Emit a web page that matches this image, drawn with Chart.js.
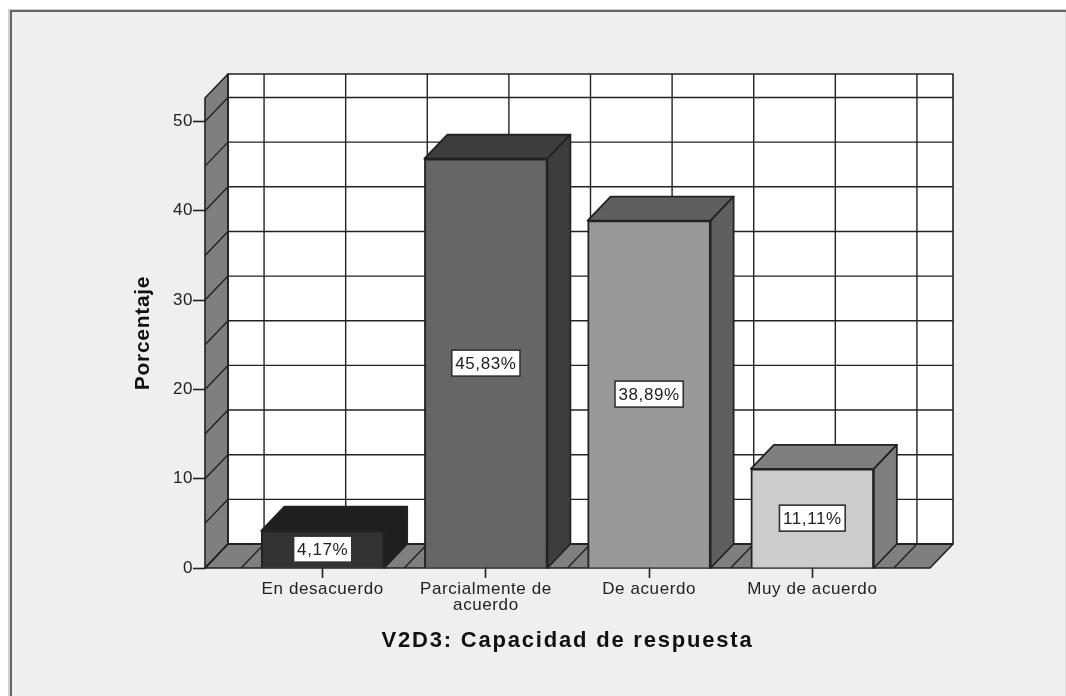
<!DOCTYPE html>
<html>
<head>
<meta charset="utf-8">
<style>
    html, body { margin: 0; padding: 0; background: #fff; }
    #wrap { width: 1066px; height: 696px; }
    canvas { display: block; }
</style>
</head>
<body>
<div id="wrap"><canvas id="myChart" width="1066" height="696"></canvas></div>
<script src="https://cdn.jsdelivr.net/npm/chart.js@4"></script>
<script>
const categories = [["En desacuerdo"], ["Parcialmente de", "acuerdo"], ["De acuerdo"], ["Muy de acuerdo"]];
const percentages = [4.17, 45.83, 38.89, 11.11];
const percentageLabels = ["4,17%", "45,83%", "38,89%", "11,11%"];
const frontColors = ["#333333", "#666666", "#999999", "#cccccc"];
const shadeColors = ["#1f1f1f", "#3d3d3d", "#5f5f5f", "#7f7f7f"];
const yGridValues = [0, 5, 10, 15, 20, 25, 30, 35, 40, 45, 50];
const xGridValues = [0.5, 1, 1.5, 2, 2.5, 3, 3.5, 4, 4.5];

const depthX = 23;
const depthY = -24;
const barWidth = 123;
const lineColor = "#222222";
const textSpacing = "0.6px";

// small helper, every 3D face is a filled polygon
function poly(ctx, points, fill, stroke, width) {
    ctx.beginPath();
    points.forEach((p, i) => i ? ctx.lineTo(p[0], p[1]) : ctx.moveTo(p[0], p[1]));
    ctx.closePath();
    if (fill) { ctx.fillStyle = fill; ctx.fill(); }
    if (stroke) { ctx.strokeStyle = stroke; ctx.lineWidth = width; ctx.lineJoin = "round"; ctx.stroke(); }
}

function line(ctx, x1, y1, x2, y2, width) {
    ctx.beginPath();
    ctx.moveTo(x1, y1);
    ctx.lineTo(x2, y2);
    ctx.strokeStyle = lineColor;
    ctx.lineWidth = width;
    ctx.stroke();
}

// Chart.js has no letter spacing option, so the axis titles get it here
function spaceTitle(scale, spacing) {
    if (scale.spacedTitle) return;
    const drawTitle = scale.drawTitle;
    scale.drawTitle = function() {
        this.ctx.letterSpacing = spacing;
        drawTitle.call(this);
        this.ctx.letterSpacing = textSpacing;
    };
    scale.spacedTitle = true;
}

const frame = {
    id: "frame",
    afterLayout(chart) {
        spaceTitle(chart.scales.x, "1.8px");
        spaceTitle(chart.scales.y, "0.7px");
    },
    beforeDraw(chart) {
        const ctx = chart.ctx;
        ctx.letterSpacing = textSpacing;
        ctx.fillStyle = "#efefef";
        ctx.fillRect(9, 9, 1057, 687);
        ctx.fillStyle = "#dcdcdc";
        ctx.fillRect(1065, 10, 1, 686);
        ctx.fillStyle = "#cfcfcf";
        ctx.fillRect(8, 9, 2, 687);
        ctx.fillRect(8, 9, 1058, 1);
        ctx.fillStyle = "#666666";
        ctx.fillRect(10, 10, 2, 686);
        ctx.fillRect(10, 10, 1056, 2);
    }
};

const walls = {
    id: "walls",
    beforeDatasetsDraw(chart) {
        const ctx = chart.ctx;
        const { left, right, top, bottom } = chart.chartArea;
        const xs = chart.scales.x;
        const ys = chart.scales.y;
        ctx.save();

        // back wall
        poly(ctx, [[left + depthX, top + depthY], [right + depthX, top + depthY], [right + depthX, bottom + depthY], [left + depthX, bottom + depthY]], "#ffffff");
        // left wall and floor
        poly(ctx, [[left, bottom], [left + depthX, bottom + depthY], [left + depthX, top + depthY], [left, top]], "#7f7f7f");
        poly(ctx, [[left, bottom], [right, bottom], [right + depthX, bottom + depthY], [left + depthX, bottom + depthY]], "#7f7f7f");

        yGridValues.forEach(v => {
            const y = ys.getPixelForValue(v);
            line(ctx, left, y, left + depthX, y + depthY, 1.4);
            line(ctx, left + depthX, y + depthY, right + depthX, y + depthY, 1.4);
        });
        xGridValues.forEach(v => {
            const x = xs.getPixelForValue(v);
            line(ctx, x, bottom, x + depthX, bottom + depthY, 1.4);
            line(ctx, x + depthX, bottom + depthY, x + depthX, top + depthY, 1.4);
        });

        poly(ctx, [[left + depthX, top + depthY], [right + depthX, top + depthY], [right + depthX, bottom + depthY], [left + depthX, bottom + depthY]], null, lineColor, 1.6);
        poly(ctx, [[left, bottom], [left + depthX, bottom + depthY], [left + depthX, top + depthY], [left, top]], null, lineColor, 1.6);
        poly(ctx, [[left, bottom], [right, bottom], [right + depthX, bottom + depthY], [left + depthX, bottom + depthY]], null, lineColor, 1.6);

        // top and side of each bar, the front comes from the dataset itself
        chart.getDatasetMeta(0).data.forEach((bar, i) => {
            const x1 = bar.x - barWidth / 2;
            const x2 = bar.x + barWidth / 2;
            poly(ctx, [[x1, bar.y], [x1 + depthX, bar.y + depthY], [x2 + depthX, bar.y + depthY], [x2, bar.y]], shadeColors[i], lineColor, 1.8);
            poly(ctx, [[x2, bar.y], [x2 + depthX, bar.y + depthY], [x2 + depthX, bottom + depthY], [x2, bottom]], shadeColors[i], lineColor, 1.8);
        });
        ctx.restore();
    }
};

const barLabels = {
    id: "barLabels",
    afterDatasetsDraw(chart) {
        const ctx = chart.ctx;
        ctx.save();
        ctx.font = "17px 'Liberation Sans'";
        ctx.textAlign = "center";
        ctx.textBaseline = "middle";
        chart.getDatasetMeta(0).data.forEach((bar, i) => {
            const y = (bar.y + bar.base) / 2;
            const w = ctx.measureText(percentageLabels[i]).width + 7;
            ctx.fillStyle = "#ffffff";
            ctx.fillRect(bar.x - w / 2, y - 13, w, 26);
            ctx.strokeStyle = "#333333";
            ctx.lineWidth = 1.6;
            ctx.strokeRect(bar.x - w / 2, y - 13, w, 26);
            ctx.fillStyle = "#222222";
            ctx.fillText(percentageLabels[i], bar.x, y + 1);
        });
        ctx.restore();
    }
};

const data = {
    datasets: [{
        data: percentages.map((v, i) => ({ x: i + 1, y: v })),
        backgroundColor: frontColors,
        borderColor: lineColor,
        borderWidth: 2,
        barThickness: barWidth,
    }]
};

const options = {
    responsive: false,
    animation: false,
    layout: { padding: { left: 0, right: 136, top: 98, bottom: 0 } },
    plugins: {
        legend: { display: false },
        tooltip: { enabled: false },
    },
    scales: {
        x: {
            type: "linear",
            offset: false,
            min: 0.279,
            max: 4.721,
            afterFit: (scale) => { scale.height = 128; },
            border: { display: false },
            grid: { offset: false, drawOnChartArea: false, tickLength: 10, tickColor: "#222222", tickWidth: 1.6 },
            ticks: {
                stepSize: 1,
                includeBounds: false,
                autoSkip: false,
                maxRotation: 0,
                padding: 3,
                color: "#222222",
                font: { family: "'Liberation Sans'", size: 17, lineHeight: 0.96 },
                callback: (v) => categories[v - 1],
            },
            title: {
                display: true,
                text: "V2D3: Capacidad de respuesta",
                color: "#111111",
                font: { family: "'Liberation Sans'", size: 22, weight: "bold" },
                padding: { top: 0, bottom: 42 },
            },
        },
        y: {
            min: 0,
            max: 52.63,
            afterFit: (scale) => { scale.width = 205; },
            border: { display: false },
            grid: {
                drawOnChartArea: false,
                tickLength: 12,
                tickWidth: 1.6,
                tickColor: (c) => c.tick.value % 10 === 0 ? "#222222" : "rgba(0,0,0,0)",
            },
            ticks: {
                stepSize: 5,
                includeBounds: false,
                padding: 0,
                color: "#222222",
                font: { family: "'Liberation Sans'", size: 17 },
                callback: (v) => v % 10 === 0 ? String(v) : "",
            },
            title: {
                display: true,
                text: "Porcentaje",
                color: "#111111",
                font: { family: "'Liberation Sans'", size: 21, weight: "bold" },
                padding: { top: 131, bottom: 0 },
            },
        },
    },
};

new Chart(document.getElementById("myChart").getContext("2d"), {
    type: "bar",
    data: data,
    options: options,
    plugins: [frame, walls, barLabels],
});
</script>
</body>
</html>
